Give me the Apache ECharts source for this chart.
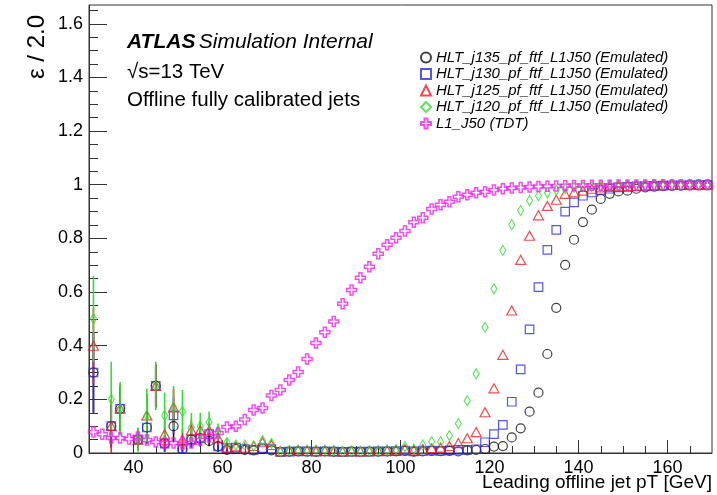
<!DOCTYPE html>
<html>
<head>
<meta charset="utf-8">
<script src="https://cdn.jsdelivr.net/npm/echarts@6/dist/echarts.min.js"></script>
<style>
html, body { margin: 0; padding: 0; background: #fff; }
#chart { width: 717px; height: 495px; }
</style>
</head>
<body>
<div id="chart"></div>
<script>
// bin centres (GeV)
var pt = [31, 33, 35, 37, 39, 41, 43, 45, 47, 49,
    51, 53, 55, 57, 59, 61, 63, 65, 67, 69,
    71, 73, 75, 77, 79, 81, 83, 85, 87, 89,
    91, 93, 95, 97, 99, 101, 103, 105, 107, 109,
    111, 113, 115, 117, 119, 121, 123, 125, 127, 129,
    131, 133, 135, 137, 139, 141, 143, 145, 147, 149,
    151, 153, 155, 157, 159, 161, 163, 165, 167, 169];

var l1J50 = [0.078, 0.070, 0.056, 0.056, 0.052, 0.060, 0.048, 0.041, 0.037, 0.037,
    0.034, 0.037, 0.048, 0.060, 0.075, 0.097, 0.100, 0.125, 0.160, 0.168,
    0.214, 0.235, 0.272, 0.302, 0.350, 0.410, 0.450, 0.490, 0.556, 0.608,
    0.653, 0.694, 0.743, 0.776, 0.802, 0.828, 0.860, 0.877, 0.910, 0.925,
    0.937, 0.955, 0.963, 0.970, 0.974, 0.980, 0.985, 0.988, 0.990, 0.992,
    0.993, 0.994, 0.995, 0.996, 0.997, 0.997, 0.998, 0.998, 0.998, 0.999,
    0.999, 0.999, 0.999, 1.000, 1.000, 1.000, 1.000, 1.000, 1.000, 1.000];

var j135 = [0.300, null, 0.100, 0.165, null, 0.050, 0.095, 0.250, 0.035, 0.100,
    0.015, 0.050, 0.055, 0.045, 0.025, 0.012, 0.015, 0.012, 0.010, 0.015,
    0.010, 0.004, 0.005, 0.006, 0.005, 0.005, 0.006, 0.005, 0.004, 0.005,
    0.004, 0.005, 0.005, 0.006, 0.006, 0.008, 0.005, 0.006, 0.008, 0.007,
    0.008, 0.006, 0.010, 0.012, 0.015, 0.024, 0.026, 0.058, 0.092, 0.154,
    0.225, 0.369, 0.541, 0.701, 0.795, 0.861, 0.907, 0.947, 0.966, 0.975,
    0.978, 0.985, 0.990, 0.993, 0.995, 0.996, 0.997, 0.998, 0.998, 0.999];

var j130 = [0.300, null, 0.100, 0.165, null, 0.050, 0.095, 0.250, 0.035, 0.140,
    0.015, 0.050, 0.055, 0.070, 0.025, 0.018, 0.020, 0.015, 0.012, 0.018,
    0.015, 0.004, 0.005, 0.006, 0.006, 0.005, 0.006, 0.005, 0.004, 0.005,
    0.005, 0.005, 0.006, 0.006, 0.007, 0.009, 0.006, 0.008, 0.009, 0.008,
    0.010, 0.012, 0.012, 0.014, 0.040, 0.070, 0.105, 0.191, 0.312, 0.461,
    0.618, 0.757, 0.832, 0.900, 0.934, 0.959, 0.971, 0.980, 0.985, 0.990,
    0.992, 0.994, 0.995, 0.996, 0.997, 0.998, 0.998, 0.999, 0.999, 1.000];

var j125 = [0.400, null, 0.100, 0.165, null, 0.050, 0.140, 0.250, 0.070, 0.170,
    0.050, 0.085, 0.085, 0.085, 0.055, 0.020, 0.025, 0.020, 0.026, 0.040,
    0.030, 0.006, 0.008, 0.010, 0.008, 0.007, 0.008, 0.007, 0.006, 0.007,
    0.006, 0.007, 0.008, 0.009, 0.010, 0.015, 0.010, 0.015, 0.018, 0.020,
    0.026, 0.037, 0.055, 0.078, 0.152, 0.241, 0.366, 0.531, 0.720, 0.810,
    0.886, 0.921, 0.944, 0.966, 0.972, 0.978, 0.985, 0.990, 0.992, 0.994,
    0.995, 0.996, 0.997, 0.998, 0.998, 0.999, 0.999, 1.000, 1.000, 1.000];

var j120 = [0.500, null, 0.200, 0.165, null, 0.050, 0.140, 0.250, 0.140, 0.170,
    0.155, 0.095, 0.100, 0.115, 0.080, 0.040, 0.030, 0.030, 0.026, 0.046,
    0.036, 0.005, 0.009, 0.011, 0.011, 0.011, 0.011, 0.009, 0.005, 0.007,
    0.005, 0.007, 0.009, 0.011, 0.014, 0.024, 0.015, 0.030, 0.042, 0.042,
    0.065, 0.110, 0.195, 0.295, 0.469, 0.612, 0.755, 0.851, 0.904, 0.941,
    0.959, 0.970, 0.980, 0.985, 0.990, 0.992, 0.994, 0.995, 0.996, 0.997,
    0.998, 0.998, 0.999, 0.999, 1.000, 1.000, 1.000, 1.000, 1.000, 1.000];

// stat. errors of the low-pT bins (31 .. 61 GeV)
var errJ135 = [0.15, null, 0.08, 0.08, null, 0.03, 0.06, 0.08, 0.03, 0.06, 0.015, 0.03, 0.03, 0.02, 0.02, 0.01];
var errJ130 = [0.15, null, 0.08, 0.08, null, 0.03, 0.06, 0.08, 0.03, 0.07, 0.015, 0.03, 0.03, 0.03, 0.02, 0.01];
var errJ125 = [0.14, null, 0.10, 0.09, null, 0.04, 0.08, 0.08, 0.05, 0.07, 0.04, 0.04, 0.035, 0.03, 0.025, 0.01];
var errJ120 = [0.16, null, 0.14, 0.10, null, 0.045, 0.10, 0.09, 0.085, 0.08, 0.08, 0.055, 0.05, 0.04, 0.03, 0.015];

var xTicks = [40, 60, 80, 100, 120, 140, 160];
var yTicks = [0, 0.2, 0.4, 0.6, 0.8, 1, 1.2, 1.4, 1.6];

var font = 'Liberation Sans, Arial, Helvetica, sans-serif';

var xMinor = [];
for (var v = 35; v < 170; v += 5) if (v % 20 !== 0) xMinor.push(v);
var yMinor = [];
for (var k = 1; k <= 33; k++) if (k % 4 !== 0) yMinor.push(+(k * 0.05).toFixed(2));

function pairs(vals) {
    var out = [];
    for (var i = 0; i < vals.length; i++) {
        if (vals[i] !== null) out.push([pt[i], vals[i]]);
    }
    return out;
}

function errPairs(vals, errs) {
    var out = [];
    for (var i = 0; i < errs.length; i++) {
        if (errs[i] !== null && vals[i] !== null) out.push([pt[i], vals[i], errs[i]]);
    }
    return out;
}

function errBar(color) {
    return function (params, api) {
        var x = api.value(0), y = api.value(1), e = api.value(2);
        var p1 = api.coord([x, Math.max(0, y - e)]);
        var p2 = api.coord([x, Math.min(1, y + e)]);
        return {
            type: 'line',
            shape: { x1: p1[0], y1: p1[1], x2: p2[0], y2: p2[1] },
            style: { stroke: color, lineWidth: 1.6 }
        };
    };
}

function errSeries(name, vals, errs, color) {
    return {
        name: name,
        type: 'custom',
        renderItem: errBar(color),
        encode: { x: 0, y: 1 },
        data: errPairs(vals, errs),
        silent: true
    };
}

function markSeries(name, vals, color, symbol, size, bw) {
    return {
        name: name,
        type: 'scatter',
        symbol: symbol,
        symbolSize: size,
        data: pairs(vals),
        itemStyle: { color: 'rgba(0,0,0,0)', borderColor: color, borderWidth: bw || 1.2 }
    };
}

var cBlack = '#111111', cBlue = '#2b2be6', cRed = '#e62222', cGreen = '#33dd33', cMag = '#ee22ee';
var crossPath = 'path://M3.5,0H6.5V3.5H10V6.5H6.5V10H3.5V6.5H0V3.5H3.5Z';

var names = ['HLT_j135_pf_ftf_L1J50 (Emulated)', 'HLT_j130_pf_ftf_L1J50 (Emulated)',
    'HLT_j125_pf_ftf_L1J50 (Emulated)', 'HLT_j120_pf_ftf_L1J50 (Emulated)', 'L1_J50 (TDT)'];

var myChart = echarts.init(document.getElementById('chart'));
var option = {
    animation: false,
    backgroundColor: '#fff',
    grid: { left: 89, right: 5, top: 5, bottom: 42, show: true, borderColor: '#333', borderWidth: 1 },
    legend: {
        orient: 'vertical',
        left: 420,
        top: 50,
        padding: 0,
        itemWidth: 10,
        itemHeight: 10,
        itemGap: 1.5,
        textStyle: { fontStyle: 'italic', fontSize: 15, lineHeight: 14, color: '#000', fontFamily: font },
        data: names
    },
    xAxis: [{
        type: 'value', min: 30, max: 170,
        axisLine: { show: true, lineStyle: { color: '#333', width: 1 } },
        axisTick: { inside: true, length: 13, customValues: xTicks, lineStyle: { color: '#333' } },
        axisLabel: { customValues: xTicks, fontSize: 18, color: '#000', fontFamily: font, margin: 6 },
        splitLine: { show: false }
    }, {
        type: 'value', min: 30, max: 170, position: 'bottom',
        axisLine: { show: false },
        axisTick: { inside: true, length: 7, customValues: xMinor, lineStyle: { color: '#333' } },
        axisLabel: { show: false },
        splitLine: { show: false }
    }],
    yAxis: [{
        type: 'value', min: 0, max: 1.67,
        axisLine: { show: true, lineStyle: { color: '#333', width: 1 } },
        axisTick: { inside: true, length: 18, customValues: yTicks, lineStyle: { color: '#333' } },
        axisLabel: { customValues: yTicks, fontSize: 18, color: '#000', fontFamily: font, margin: 6 },
        splitLine: { show: false }
    }, {
        type: 'value', min: 0, max: 1.67, position: 'left',
        axisLine: { show: false },
        axisTick: { inside: true, length: 9, customValues: yMinor, lineStyle: { color: '#333' } },
        axisLabel: { show: false },
        splitLine: { show: false }
    }],
    series: [
        errSeries('err135', j135, errJ135, cBlack),
        markSeries(names[0], j135, cBlack, 'circle', 9),
        errSeries('err130', j130, errJ130, cBlue),
        markSeries(names[1], j130, cBlue, 'rect', 8.5),
        errSeries('err125', j125, errJ125, cRed),
        markSeries(names[2], j125, cRed, 'triangle', [10, 9]),
        errSeries('err120', j120, errJ120, cGreen),
        markSeries(names[3], j120, cGreen, 'diamond', [6, 10]),
        markSeries(names[4], l1J50, cMag, crossPath, 10, 1.5)
    ],
    graphic: [{
        type: 'text', x: 127, y: 42,
        style: {
            text: '{a|ATLAS} {b|Simulation Internal}',
            verticalAlign: 'middle',
            rich: {
                a: { fontWeight: 'bold', fontStyle: 'italic', fontSize: 21, fontFamily: font, fill: '#000' },
                b: { fontStyle: 'italic', fontSize: 21, fontFamily: font, fill: '#000' }
            }
        }
    }, {
        type: 'text', x: 127, y: 72,
        style: { text: '√s=13 TeV', verticalAlign: 'middle', fontSize: 20.5, fontFamily: font, fill: '#000' }
    }, {
        type: 'text', x: 127, y: 100,
        style: { text: 'Offline fully calibrated jets', verticalAlign: 'middle', fontSize: 20.5, fontFamily: font, fill: '#000' }
    }, {
        type: 'text', x: 37, y: 47, rotation: Math.PI / 2,
        style: { text: 'ε / 2.0', align: 'center', verticalAlign: 'middle', fontSize: 24, fontFamily: font, fill: '#000' }
    }, {
        type: 'text', x: 712, y: 483,
        style: { text: 'Leading offline jet pT [GeV]', align: 'right', verticalAlign: 'middle', fontSize: 19, fontFamily: font, fill: '#000' }
    }]
};

if (option && typeof option === 'object') {
    myChart.setOption(option, true);
}

window.onresize = function () {
    myChart.resize();
};
</script>
</body>
</html>
